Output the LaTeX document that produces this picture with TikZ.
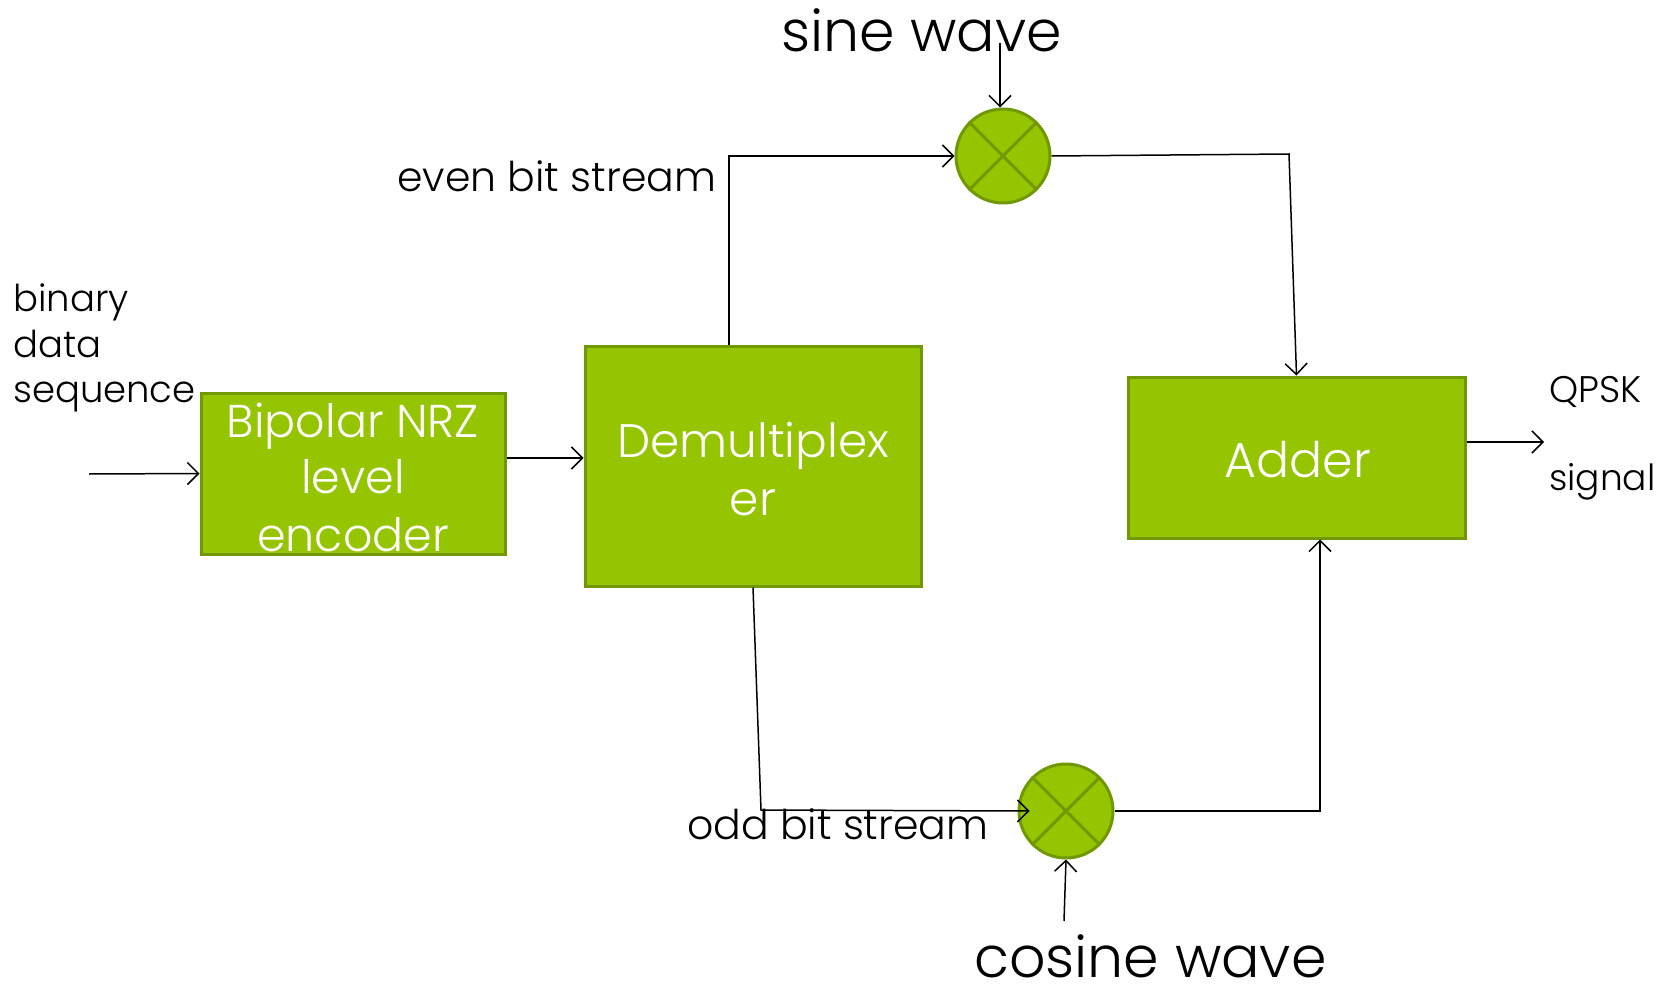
\documentclass[tikz,border=0pt]{standalone}
\usepackage{fontspec}
\IfFontExistsTF{Poppins Light}{\setmainfont{Poppins Light}}{\setmainfont{Poppins}}
\usetikzlibrary{arrows.meta,calc}
\definecolor{blockfill}{RGB}{149,196,0}
\definecolor{blockline}{RGB}{112,152,0}
\tikzset{
  block/.style={draw=blockline, line width=3pt, fill=blockfill, text=white, align=center, inner sep=0pt},
  mixer/.style={circle, draw=blockline, line width=3pt, fill=blockfill, minimum size=94pt, inner sep=0pt},
  wire/.style={line width=1.5pt, black},
  arr/.style={wire, -{Straight Barb[length=11pt,width=22pt,line width=1.5pt]}},
  lbl/.style={inner sep=0pt, anchor=base west, text=black},
  intext/.style={inner sep=0pt, anchor=base, text=white},
}
\newcommand{\fsz}[2]{\fontsize{#1}{#2}\selectfont}
\begin{document}
\begin{tikzpicture}[x=1pt,y=-1pt]
\useasboundingbox (0,0) rectangle (1667,984);

% blocks
\node[block, minimum width=304pt, minimum height=161pt] (bip) at (353,473.5) {};
\node[block, minimum width=336pt, minimum height=240pt] (demux) at (753,466) {};
\node[block, minimum width=337pt, minimum height=161pt] (adder) at (1296.5,457.5) {};

% block captions, one line each
\node[intext, font=\fsz{46}{56}] (tbip1) at (353,437) {Bipolar NRZ};
\node[intext, font=\fsz{46}{56}] (tbip2) at (353,493) {level};
\node[intext, font=\fsz{46}{56}] (tbip3) at (353,551) {encoder};
\node[intext, font=\fsz{47}{56}] (tdem1) at (753,457) {Demultiplex};
\node[intext, font=\fsz{47}{56}] (tdem2) at (753,515) {er};
\node[intext, font=\fsz{49}{56}] (tadd) at (1298,477) {Adder};

% multipliers
\node[mixer] (sine) at (1003,156) {};
\node[mixer] (cos) at (1066,811) {};
\foreach \m in {sine,cos}{
  \draw[blockline, line width=3pt] (\m.45) -- (\m.225) (\m.135) -- (\m.315);
}

% labels
\node[lbl, font=\fsz{57}{64}] (lsine) at (781,52) {sine wave};
\node[lbl, font=\fsz{57}{64}, text depth=0pt] (lcos) at (974,977) {cosine wave};
\node[lbl, font=\fsz{41}{48}] (leven) at (397,192) {even bit stream};
\node[lbl, font=\fsz{41}{48}] (lodd) at (687,839) {odd bit stream};
\node[lbl, font=\fsz{37}{44}] (lbin1) at (13,311) {binary};
\node[lbl, font=\fsz{37}{44}] (lbin2) at (13,357) {data};
\node[lbl, font=\fsz{37}{44}] (lbin3) at (13,402) {sequence};
\node[lbl, font=\fsz{37}{44}] (lq1) at (1549,402) {QPSK};
\node[lbl, font=\fsz{36}{44}] (lq2) at (1549,490) {signal};

% free ends of connectors
\coordinate (inp) at (89,474);
\coordinate (sinesrc) at (1000,43);
\coordinate (cossrc) at (1064,921);
\coordinate (outp) at (1544,442);
\coordinate (sinebend) at (1289,154);
\coordinate (oddbend) at (761,810);

% connectors
\draw[arr] (inp) -- (bip.west);
\draw[arr] ([yshift=15.5pt]bip.east) -- ([yshift=15.5pt]bip.east -| demux.west);
\draw[arr] ([xshift=-24pt]demux.north) |- (sine.west);
\draw[arr] (sinesrc) -- (sinesrc |- sine.north);
\draw[arr] (sine.east) -- (sinebend) -- (adder.north);
\draw[arr] (demux.south) -- (oddbend) -- ([xshift=12pt]cos.west);
\draw[arr] (cos.east) -| ([xshift=23.5pt]adder.south);
\draw[arr] (cossrc) -- (cos.south);
\draw[arr] ([yshift=15.5pt]adder.east) -- (outp);
\end{tikzpicture}
\end{document}
